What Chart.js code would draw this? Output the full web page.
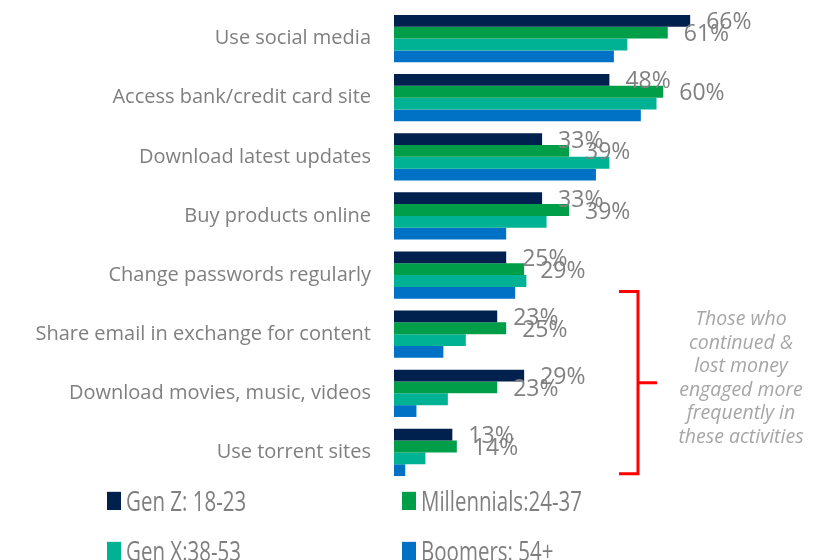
<!DOCTYPE html>
<html>
<head>
<meta charset="utf-8">
<script src="https://cdn.jsdelivr.net/npm/chart.js@4.4.1/dist/chart.umd.min.js"></script>
<style>
  html, body { margin: 0; padding: 0; background: #fff; overflow: hidden; }
  .wrap { position: relative; width: 829px; height: 560px; }
  .legend-item {
    position: absolute; display: flex; align-items: center;
    font-family: "Open Sans", sans-serif; font-size: 20.5px; color: #7f7f7f;
    white-space: nowrap; line-height: 1;
    transform: scale(1, 1.3); transform-origin: left center;
  }
  .legend-item span.box { width: 14px; height: 14px; margin-right: 5px; display: inline-block; }
</style>
</head>
<body>
<div class="wrap">
  <canvas id="chart" width="829" height="560"></canvas>
  <div id="legend"></div>
</div>
<script>
const categories = [
  "Use social media",
  "Access bank/credit card site",
  "Download latest updates",
  "Buy products online",
  "Change passwords regularly",
  "Share email in exchange for content",
  "Download movies, music, videos",
  "Use torrent sites"
];
const seriesNames = ["Gen Z: 18-23", "Millennials:24-37", "Gen X:38-53", "Boomers: 54+"];
const seriesColors = ["#00204e", "#009e49", "#00b294", "#0072c6"];
const genZ = [66, 48, 33, 33, 25, 23, 29, 13];
const millennials = [61, 60, 39, 39, 29, 25, 23, 14];
const genX = [52, 58.5, 48, 34, 29.5, 16, 12, 7];
const boomers = [49, 55, 45, 25, 27, 11, 5, 2.5];
const noteLines = ["Those who", "continued &", "lost money", "engaged more", "frequently in", "these activities"];

const seriesValues = [genZ, millennials, genX, boomers];

// percent labels only for the two younger groups
const valueLabels = {
  id: "valueLabels",
  afterDatasetsDraw(chart) {
    const ctx = chart.ctx;
    ctx.save();
    ctx.font = "23px 'Open Sans', sans-serif";
    ctx.fillStyle = "#808080";
    ctx.textAlign = "left";
    ctx.textBaseline = "middle";
    [0, 1].forEach((di) => {
      const meta = chart.getDatasetMeta(di);
      meta.data.forEach((bar, i) => {
        ctx.fillText(chart.data.datasets[di].data[i] + "%", bar.x + 16, bar.y + 2);
      });
    });
    ctx.restore();
  }
};

// red bracket and note beside the last three activities
const bracketNote = {
  id: "bracketNote",
  afterDraw(chart) {
    const ctx = chart.ctx;
    const y = chart.scales.y;
    const step = y.getPixelForValue(1) - y.getPixelForValue(0);
    const top = y.getPixelForValue(5) - 0.72 * step;
    const bottom = y.getPixelForValue(7) + 0.36 * step;
    const mid = (top + bottom) / 2;
    const xv = 638, xl = 619, xm = 657;
    ctx.save();
    ctx.strokeStyle = "#ff0000";
    ctx.lineWidth = 3;
    ctx.beginPath();
    ctx.moveTo(xl, top); ctx.lineTo(xv, top); ctx.lineTo(xv, bottom); ctx.lineTo(xl, bottom);
    ctx.moveTo(xv, mid); ctx.lineTo(xm, mid);
    ctx.stroke();
    ctx.font = "italic 19.5px 'Open Sans', sans-serif";
    ctx.fillStyle = "#a6a6a6";
    ctx.textAlign = "center";
    ctx.textBaseline = "middle";
    const lh = 23.5;
    const y0 = mid - lh * (noteLines.length - 1) / 2 - 4;
    noteLines.forEach((t, i) => ctx.fillText(t, 741, y0 + i * lh));
    ctx.restore();
  }
};

new Chart(document.getElementById("chart").getContext("2d"), {
  type: "bar",
  data: {
    labels: categories,
    datasets: seriesNames.map((name, i) => ({
      label: name,
      data: seriesValues[i],
      backgroundColor: seriesColors[i],
      borderWidth: 0,
      categoryPercentage: 0.8,
      barPercentage: 1.0
    }))
  },
  options: {
    indexAxis: "y",
    responsive: false,
    animation: false,
    layout: { padding: { top: 9, right: 76, bottom: 78, left: 0 } },
    plugins: {
      legend: { display: false },
      tooltip: { enabled: false }
    },
    scales: {
      x: { display: false, min: 0, max: 80 },
      y: {
        grid: { display: false, drawTicks: false },
        border: { display: false },
        ticks: {
          padding: 23,
          color: "#7f7f7f",
          font: { family: "'Open Sans', sans-serif", size: 20 }
        },
        afterFit(scale) {
          scale.width = 394;
          scale.paddingTop = 0;
          scale.paddingBottom = 0;
        }
      }
    }
  },
  plugins: [valueLabels, bracketNote]
});

// two-column legend under the chart
const legend = document.getElementById("legend");
const spots = [[107, 502], [402, 502], [107, 552], [402, 552]];
seriesNames.forEach((name, i) => {
  const el = document.createElement("div");
  el.className = "legend-item";
  el.style.left = spots[i][0] + "px";
  el.style.top = (spots[i][1] - 11) + "px";
  el.innerHTML = '<span class="box" style="background:' + seriesColors[i] + '"></span>' + name;
  legend.appendChild(el);
});
</script>
</body>
</html>
